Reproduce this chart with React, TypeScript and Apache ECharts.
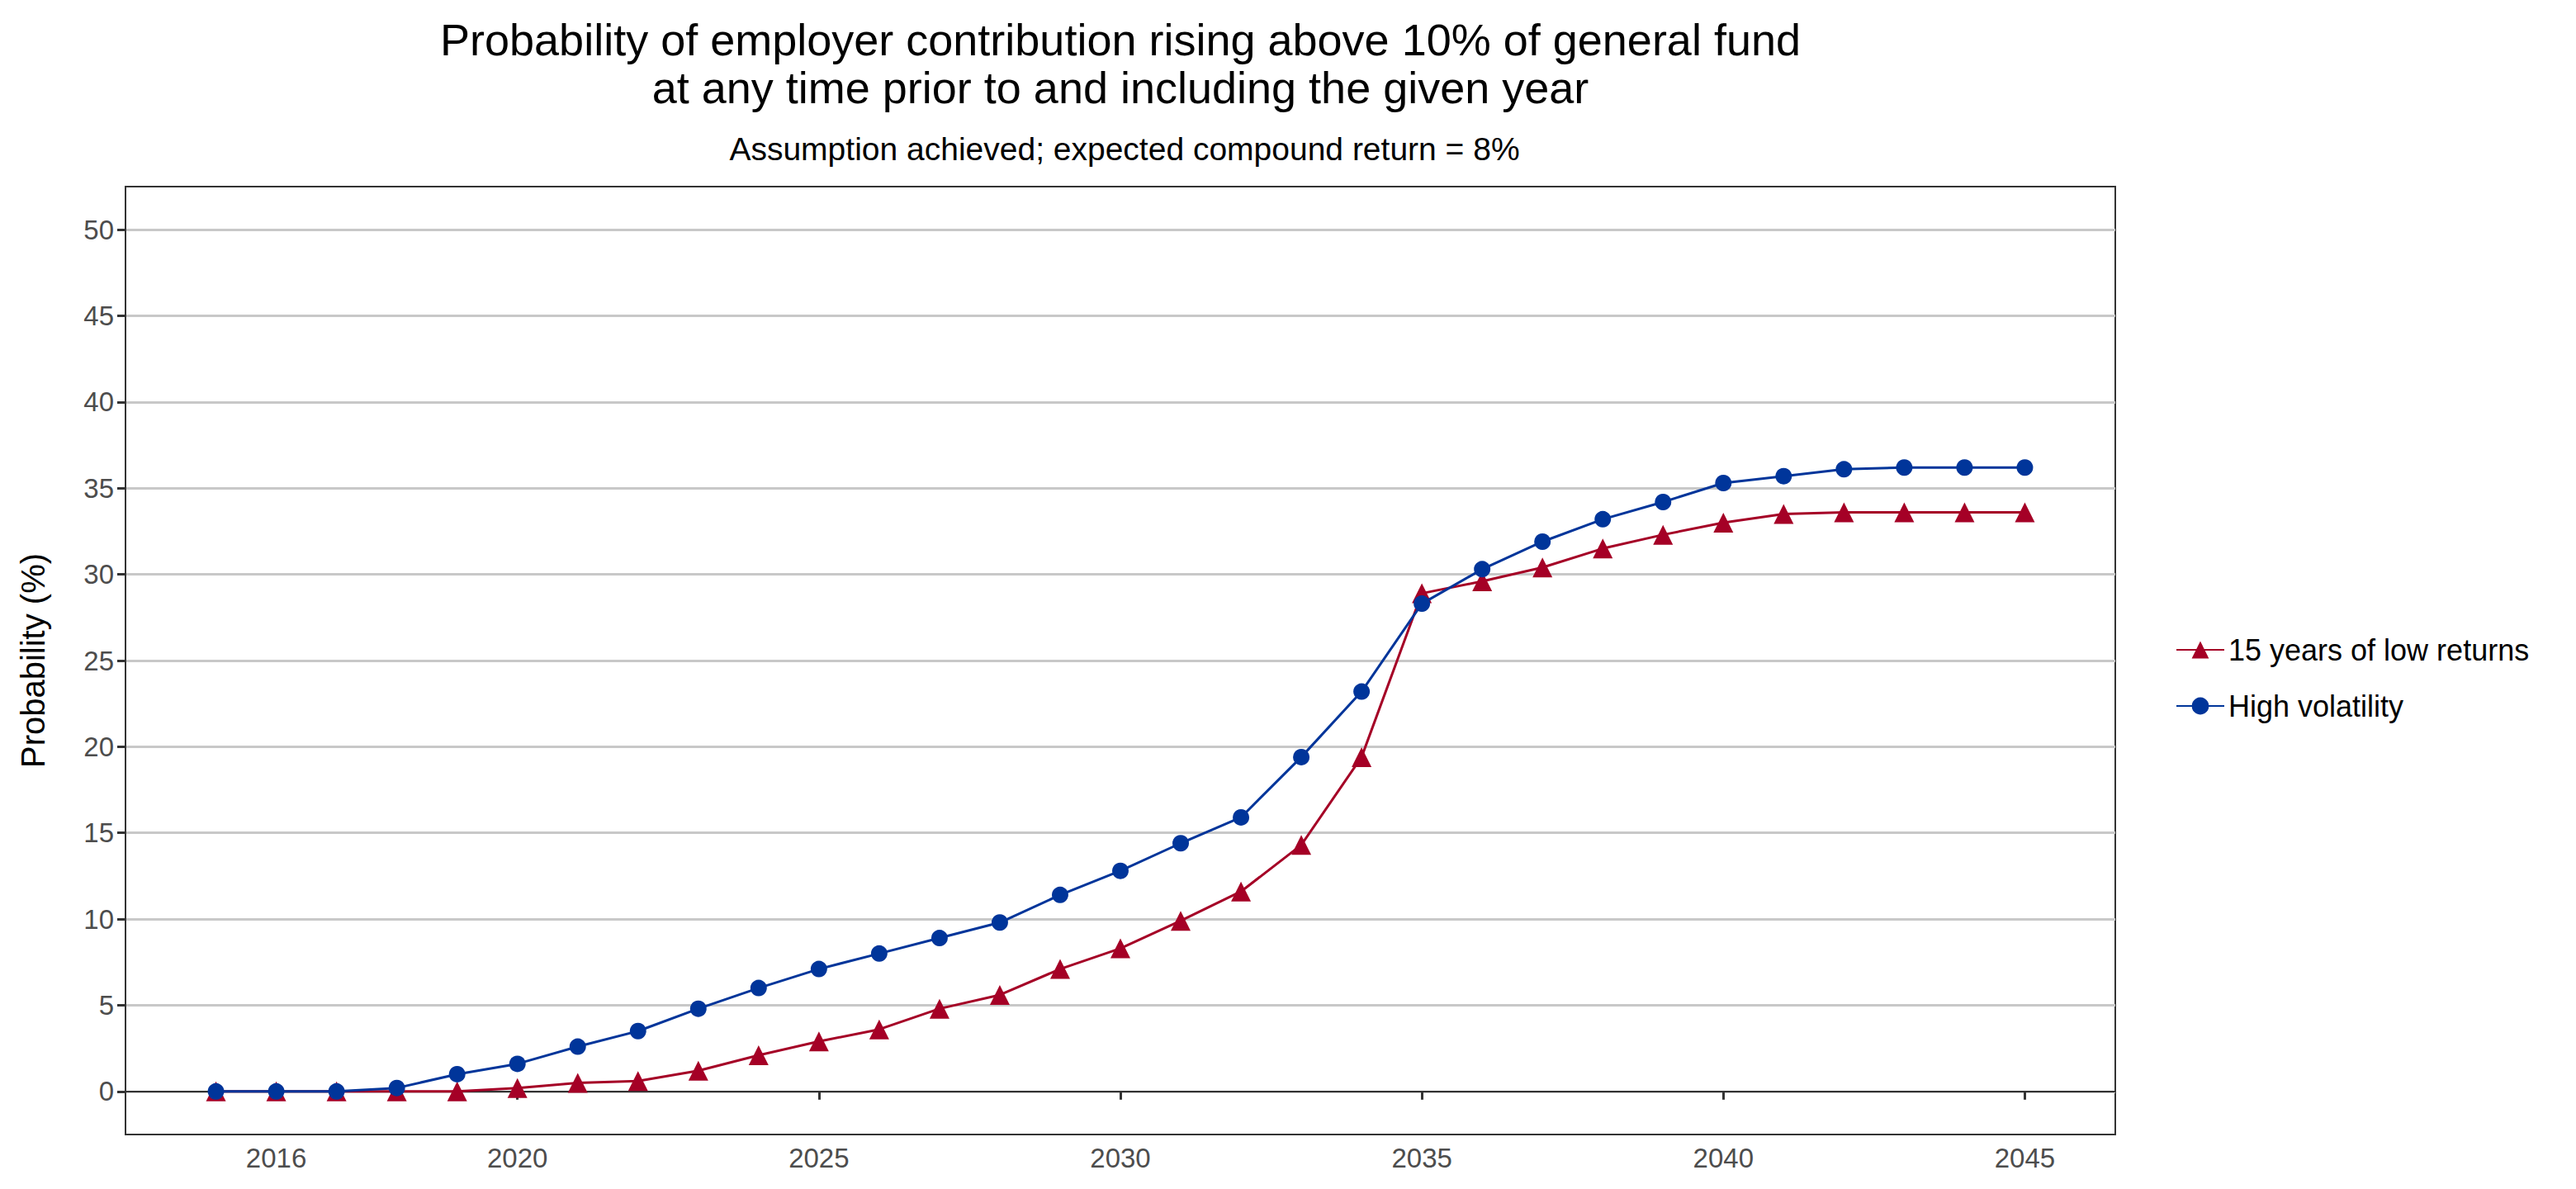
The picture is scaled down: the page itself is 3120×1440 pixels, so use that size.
import React, { useEffect, useRef } from "react";
import * as echarts from "echarts";

const years = [2015,2016,2017,2018,2019,2020,2021,2022,2023,2024,2025,2026,2027,2028,2029,2030,2031,2032,2033,2034,2035,2036,2037,2038,2039,2040,2041,2042,2043,2044,2045];
const highVol = [0,0,0,0.2,1.0,1.6,2.6,3.5,4.8,6.0,7.1,8.0,8.9,9.8,11.4,12.8,14.4,15.9,19.4,23.2,28.3,30.3,31.9,33.2,34.2,35.3,35.7,36.1,36.2,36.2,36.2];
const lowRet = [0,0,0,0,0,0.2,0.5,0.6,1.2,2.1,2.9,3.6,4.8,5.6,7.1,8.3,9.9,11.6,14.3,19.4,28.9,29.6,30.4,31.5,32.3,33.0,33.5,33.6,33.6,33.6,33.6];
const xTicks = [2016,2020,2025,2030,2035,2040,2045];
const yTicks = [0,5,10,15,20,25,30,35,40,45,50];

export default function App() {
  const ref = useRef<HTMLDivElement>(null);
  useEffect(() => {
    const chart = echarts.init(ref.current!, null, { renderer: "svg" });
    const font = "Liberation Sans, Arial, sans-serif";
    chart.setOption({
      animation: false,
      backgroundColor: "#fff",
      textStyle: { fontFamily: font },
      title: [
        { text: "Probability of employer contribution rising above 10% of general fund\nat any time prior to and including the given year", left: 1352, top: 14, textAlign: "center",
          textStyle: { fontSize: 54, fontWeight: "normal", color: "#000", lineHeight: 58, fontFamily: font } },
        { text: "Assumption achieved; expected compound return = 8%", left: 1357, top: 156, textAlign: "center",
          textStyle: { fontSize: 39, fontWeight: "normal", color: "#000", fontFamily: font } },
      ],
      legend: {
        orient: "vertical", left: 2630, top: 764, itemGap: 32, itemWidth: 58, itemHeight: 26,
        textStyle: { fontSize: 36, color: "#000", fontFamily: font },
        data: ["15 years of low returns", "High volatility"],
      },
      grid: { left: 152, right: 558, top: 226, bottom: 66, show: true, borderColor: "#333", borderWidth: 2 },
      xAxis: {
        type: "value", min: 2013.5, max: 2046.5,
        axisLine: { show: true, lineStyle: { color: "#333", width: 2 } }, splitLine: { show: false },
        axisTick: { show: true, inside: false, customValues: xTicks, length: 10, lineStyle: { color: "#333", width: 3 } },
        axisLabel: { customValues: xTicks, fontSize: 33, color: "#4d4d4d", margin: 12, formatter: (v: number) => String(v) },
      },
      yAxis: {
        type: "value", min: -2.5, max: 52.5,
        name: "Probability (%)", nameLocation: "middle", nameGap: 92,
        nameTextStyle: { fontSize: 40, color: "#000", fontFamily: font },
        axisLine: { show: true, lineStyle: { color: "#333", width: 2 } },
        axisTick: { show: true, inside: false, customValues: yTicks, length: 10, lineStyle: { color: "#333", width: 3 } },
        axisLabel: { customValues: yTicks, fontSize: 33, color: "#4d4d4d", margin: 14 },
        splitLine: { show: true, lineStyle: { color: "#c8c8c8", width: 3 } },
      },
      series: [
        { name: "15 years of low returns", type: "line", data: years.map((y, i) => [y, lowRet[i]]),
          symbol: "triangle", symbolSize: 24, color: "#a50026", lineStyle: { width: 3 }, z: 2 },
        { name: "High volatility", type: "line", data: years.map((y, i) => [y, highVol[i]]),
          symbol: "circle", symbolSize: 20, color: "#00359a", lineStyle: { width: 3 }, z: 3 },
      ],
    });
    return () => chart.dispose();
  }, []);
  return <div ref={ref} style={{ position: "fixed", left: 0, top: 0, width: 3120, height: 1440 }} />;
}
